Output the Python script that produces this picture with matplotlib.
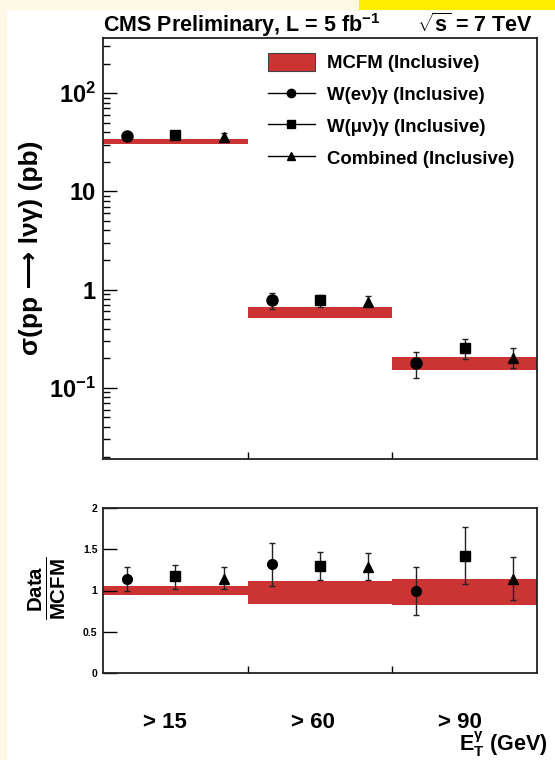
import matplotlib

matplotlib.use("Agg")

import matplotlib.pyplot as plt
import matplotlib.patches as mpatches
import matplotlib.transforms as mtransforms
from matplotlib.lines import Line2D
from matplotlib.ticker import FixedLocator, FixedFormatter, LogLocator, NullFormatter


# bins of photon ET threshold
bin_labels = ["> 15", "> 60", "> 90"]
bin_centers = [0.5, 1.5, 2.5]

# cross section (pb)
mcfm_lo = [30.2, 0.51, 0.153]
mcfm_hi = [34.0, 0.67, 0.207]
ev_val = [36.4, 0.785, 0.18]
ev_lo = [33.4, 0.64, 0.126]
ev_hi = [39.8, 0.93, 0.233]
mu_val = [37.3, 0.785, 0.256]
mu_lo = [34.8, 0.67, 0.198]
mu_hi = [40.0, 0.89, 0.316]
comb_val = [35.6, 0.754, 0.20]
comb_lo = [33.0, 0.686, 0.16]
comb_hi = [39.2, 0.87, 0.256]

# data / MCFM ratio
rmcfm_lo = [0.94, 0.84, 0.83]
rmcfm_hi = [1.05, 1.12, 1.145]
rev_val = [1.145, 1.325, 0.99]
rev_lo = [1.00, 1.06, 0.70]
rev_hi = [1.28, 1.58, 1.28]
rmu_val = [1.17, 1.30, 1.42]
rmu_lo = [1.02, 1.13, 1.08]
rmu_hi = [1.31, 1.47, 1.77]
rcomb_val = [1.145, 1.29, 1.145]
rcomb_lo = [1.02, 1.13, 0.88]
rcomb_hi = [1.28, 1.46, 1.41]

RED = "#cc3333"
OFFSETS = [-1 / 3, 0.0, 1 / 3]
MARKERS = ["o", "s", "^"]

plt.rcParams["font.family"] = ["Liberation Sans", "DejaVu Sans"]
plt.rcParams["font.weight"] = "bold"
plt.rcParams["mathtext.fontset"] = "custom"
plt.rcParams["mathtext.rm"] = "Liberation Sans:bold"
plt.rcParams["mathtext.bf"] = "Liberation Sans:bold"
plt.rcParams["mathtext.it"] = "Liberation Sans:bold"
plt.rcParams["mathtext.default"] = "bf"

fig = plt.figure(figsize=(5.55, 7.6), dpi=100, facecolor="#fcf9e6")
fig.patches.append(mpatches.Rectangle((7 / 555, 0), 1, 1 - 11 / 760, transform=fig.transFigure,
                                      facecolor="white", edgecolor="none", zorder=-10))
fig.patches.append(mpatches.Rectangle((359 / 555, 1 - 10 / 760), 1, 10 / 760, transform=fig.transFigure,
                                      facecolor="#ffee00", edgecolor="none", zorder=-10))

ax1 = fig.add_axes([103 / 555, 1 - 459 / 760, 434 / 555, 421 / 760])
ax2 = fig.add_axes([103 / 555, 1 - 673 / 760, 434 / 555, 165 / 760])


def draw_panel(ax, lo, hi, series):
    heights = [h - l for l, h in zip(lo, hi)]
    ax.bar(bin_centers, heights, bottom=lo, width=1.0, color=RED, edgecolor="none", zorder=1)
    for (val, vlo, vhi, ms), off, mk in zip(series, OFFSETS, MARKERS):
        xs = [c + off for c in bin_centers]
        yerr = [[v - l for v, l in zip(val, vlo)], [h - v for v, h in zip(val, vhi)]]
        ax.errorbar(xs, val, yerr=yerr, fmt=mk, color="black", ms=ms, elinewidth=1.0,
                    ecolor="#222222", capsize=2.5, capthick=1.0, zorder=3)
    ax.set_xlim(0, 3)
    ax.xaxis.set_major_locator(FixedLocator([1, 2]))
    ax.xaxis.set_major_formatter(NullFormatter())
    ax.tick_params(axis="x", direction="in", length=5, width=1, bottom=True, top=False)
    for sp in ax.spines.values():
        sp.set_linewidth(1.3)
        sp.set_color("#222222")


draw_panel(ax1, mcfm_lo, mcfm_hi,
           [(ev_val, ev_lo, ev_hi, 8), (mu_val, mu_lo, mu_hi, 7.5), (comb_val, comb_lo, comb_hi, 7.5)])
ax1.set_yscale("log")
ax1.set_ylim(0.0189, 364)
ax1.yaxis.set_major_locator(FixedLocator([0.1, 1, 10, 100]))
ax1.yaxis.set_major_formatter(FixedFormatter([r"$10^{-1}$", "1", "10", r"$10^{2}$"]))
ax1.yaxis.set_minor_locator(LogLocator(base=10, subs=range(2, 10)))
ax1.yaxis.set_minor_formatter(NullFormatter())
ax1.tick_params(axis="y", which="major", direction="in", length=10, width=1, labelsize=17, pad=5)
ax1.tick_params(axis="y", which="minor", direction="in", length=5, width=1)

draw_panel(ax2, rmcfm_lo, rmcfm_hi,
           [(rev_val, rev_lo, rev_hi, 7), (rmu_val, rmu_lo, rmu_hi, 6.5), (rcomb_val, rcomb_lo, rcomb_hi, 6.5)])
ax2.set_ylim(0, 2)
ax2.yaxis.set_major_locator(FixedLocator([0, 0.5, 1, 1.5, 2]))
ax2.yaxis.set_major_formatter(FixedFormatter(["0", "0.5", "1", "1.5", "2"]))
ax2.tick_params(axis="y", which="major", direction="in", length=10, width=1, labelsize=7.5, pad=4)

handles = [
    mpatches.Patch(facecolor=RED, edgecolor="#444444", linewidth=0.8),
    Line2D([], [], color="black", lw=1.0, marker="o", ms=6),
    Line2D([], [], color="black", lw=1.0, marker="s", ms=5.5),
    Line2D([], [], color="black", lw=1.0, marker="^", ms=5.5),
]
labels = ["MCFM (Inclusive)", "W(e\u03bd)\u03b3 (Inclusive)", "W(\u03bc\u03bd)\u03b3 (Inclusive)",
          "Combined (Inclusive)"]
fig.legend(handles, labels, loc="upper left", bbox_to_anchor=(268 / 555, 1 - 53 / 760),
           frameon=False, fontsize=13.4, handlelength=2.5, handleheight=1.1, handletextpad=0.65,
           labelspacing=0.68, borderpad=0, borderaxespad=0)

fig.text(103 / 555, 1 - 32 / 760, r"CMS Preliminary, L = 5 fb$^{-1}$", fontsize=15.5,
         ha="left", va="baseline")
fig.text(533 / 555, 1 - 32 / 760, r"$\sqrt{s}$ = 7 TeV", fontsize=15.5, ha="right", va="baseline")

fig.text(31 / 555, 1 - 248 / 760, "\u03c3(pp \u27f6 l\u03bd\u03b3) (pb)", fontsize=19,
         rotation=90, ha="center", va="center", family=["Liberation Sans", "DejaVu Sans"])
fig.text(47 / 555, 1 - 588 / 760, r"$\frac{Data}{MCFM}$", fontsize=21, rotation=90,
         ha="center", va="center")

trans = mtransforms.blended_transform_factory(ax2.transData, fig.transFigure)
for xc, lab in zip([0.43, 1.45, 2.47], bin_labels):
    ax2.text(xc, 1 - 723 / 760, lab, transform=trans, fontsize=16, ha="center", va="center")
fig.text(547 / 555, 1 - 759 / 760, r"$E_T^{\gamma}$ (GeV)", fontsize=15.5, ha="right", va="bottom")

fig.savefig("out.png", dpi=100, facecolor=fig.get_facecolor())
